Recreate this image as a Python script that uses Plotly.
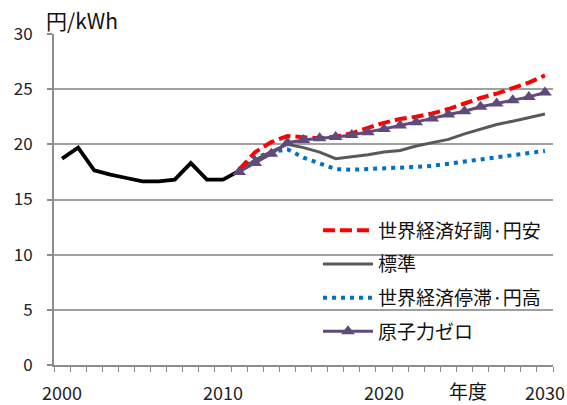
import plotly.graph_objects as go

# Fiscal years
years_actual = list(range(2000, 2012))
years_proj = list(range(2011, 2031))

# Actual unit price (yen/kWh), FY2000-2011
actual = [18.7, 19.7, 17.65, 17.25, 16.95, 16.65, 16.65, 16.8, 18.3, 16.8, 16.8, 17.6]

# Projections FY2011-2030
strong_weak_yen = [17.7, 19.3, 20.2, 20.75, 20.65, 20.55, 20.7, 21.0, 21.5, 21.95, 22.3, 22.5,
                   22.8, 23.2, 23.7, 24.2, 24.6, 25.1, 25.6, 26.25]
standard = [17.6, 18.6, 19.35, 20.0, 19.7, 19.3, 18.7, 18.85, 19.05, 19.3, 19.45, 19.85,
            20.15, 20.45, 20.95, 21.4, 21.8, 22.1, 22.45, 22.75]
stagnant_strong_yen = [17.6, 18.8, 19.3, 19.55, 18.8, 18.3, 17.75, 17.7, 17.75, 17.8, 17.85, 17.95,
                       18.05, 18.25, 18.45, 18.6, 18.85, 19.0, 19.2, 19.4]
nuclear_zero = [17.5, 18.3, 19.15, 20.15, 20.4, 20.55, 20.66, 20.85, 21.1, 21.4, 21.7, 22.0,
                22.35, 22.7, 23.0, 23.4, 23.7, 24.0, 24.3, 24.7]

names = ["世界経済好調·円安", "標準", "世界経済停滞·円高", "原子力ゼロ"]

y_ticks = [0, 5, 10, 15, 20, 25, 30]
x_labels = [2000, 2010, 2020, 2030]

FONT = "Noto Sans CJK JP"

fig = go.Figure()

fig.add_trace(go.Scatter(
    x=years_actual, y=actual, mode="lines", showlegend=False,
    line=dict(color="#000000", width=3.8), hoverinfo="skip"))

fig.add_trace(go.Scatter(
    x=years_proj, y=stagnant_strong_yen, mode="lines", name=names[2],
    legendgroup="c", legendrank=3,
    line=dict(color="#0070C0", width=4, dash="4px,5px")))

fig.add_trace(go.Scatter(
    x=years_proj, y=standard, mode="lines", name=names[1],
    legendgroup="b", legendrank=2,
    line=dict(color="#595959", width=3)))

fig.add_trace(go.Scatter(
    x=years_proj, y=strong_weak_yen, mode="lines", name=names[0],
    legendgroup="a", legendrank=1,
    line=dict(color="#FF0000", width=4, dash="12px,5px")))

fig.add_trace(go.Scatter(
    x=years_proj, y=nuclear_zero, mode="lines+markers", name=names[3],
    legendgroup="d", legendrank=4,
    line=dict(color="#604A7B", width=3),
    marker=dict(symbol="triangle-up", size=12, color="#604A7B")))

fig.update_layout(
    width=567, height=405,
    margin=dict(l=54, r=14, t=34, b=40, autoexpand=False),
    paper_bgcolor="white", plot_bgcolor="white",
    font=dict(family=FONT, size=17, color="#222222"),
    legend=dict(
        x=0.529, xanchor="left", y=0.464, yanchor="top",
        bgcolor="rgba(255,255,255,0)", font=dict(family=FONT, size=19, color="#111111"),
        tracegroupgap=6, itemwidth=50, traceorder="grouped",
    ),
    # white panel behind the legend, hiding the lower gridlines there
    shapes=[dict(type="rect", xref="paper", yref="paper",
                 x0=0.479, x1=1.0, y0=0.03, y1=0.48,
                 fillcolor="white", line=dict(width=0), layer="between")],
    xaxis=dict(
        range=[1999.5, 2030.5], automargin=False,
        tickmode="array", tickvals=x_labels, ticktext=[str(v) for v in x_labels],
        ticks="", ticklabelstandoff=11,
        showgrid=False, zeroline=False,
        showline=True, linecolor="#8C8C8C", linewidth=2,
        tickfont=dict(family=FONT, size=18, color="#222222"),
        minor=dict(tickmode="array",
                   tickvals=[y + 0.5 for y in range(1999, 2031)],
                   ticks="outside", ticklen=5, tickcolor="#8C8C8C", tickwidth=1,
                   showgrid=False),
    ),
    yaxis=dict(
        range=[0, 30], tickvals=y_ticks, automargin=False,
        ticks="outside", ticklen=5, tickcolor="#8C8C8C", tickwidth=1.5,
        showgrid=True, gridcolor="#A0A0A0", gridwidth=1.5,
        zeroline=False, showline=True, linecolor="#8C8C8C", linewidth=2,
        tickfont=dict(family=FONT, size=17, color="#222222"),
        ticklabelstandoff=11,
    ),
    annotations=[
        dict(text="円/kWh", xref="paper", yref="paper", x=-0.02, y=1.0,
             xanchor="left", yanchor="bottom", showarrow=False, yshift=-3,
             font=dict(family=FONT, size=21, color="#111111")),
        dict(text="年度", xref="paper", yref="paper", x=0.83, y=0,
             xanchor="center", yanchor="top", showarrow=False, yshift=-10,
             font=dict(family=FONT, size=19, color="#111111")),
    ],
)

fig.write_html("out.html")
